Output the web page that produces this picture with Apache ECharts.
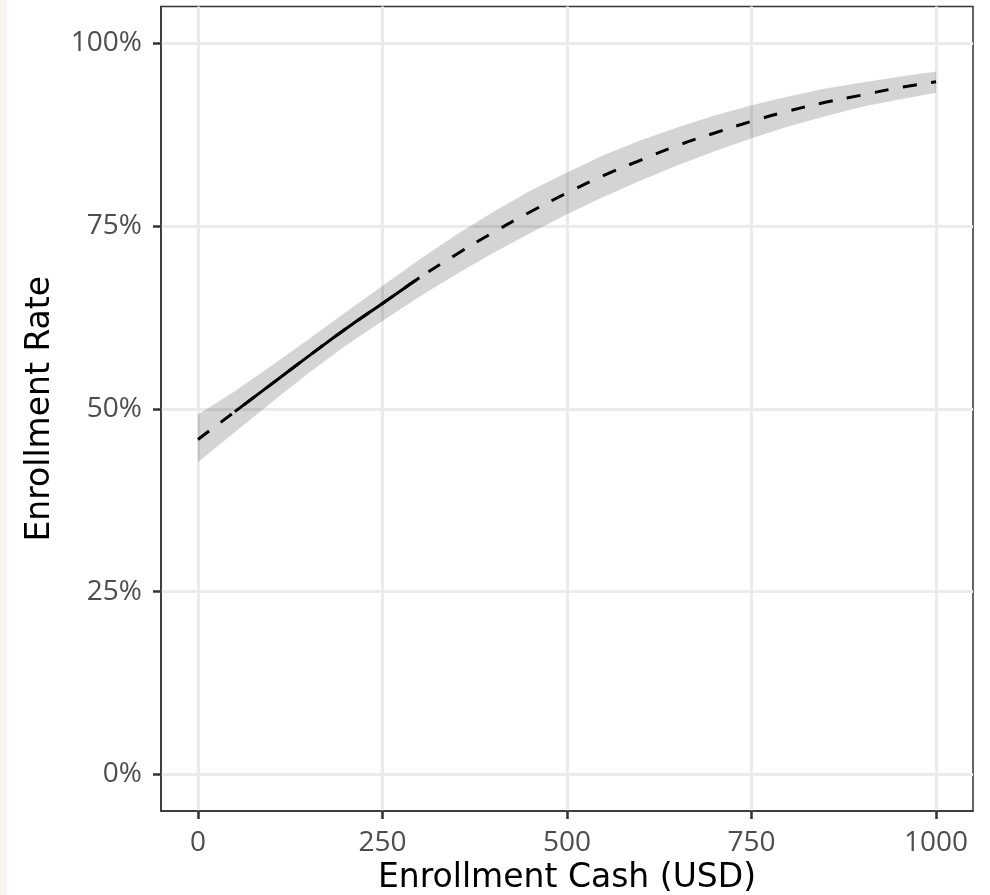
<!DOCTYPE html>
<html>
<head>
<meta charset="utf-8">
<script src="https://cdn.jsdelivr.net/npm/echarts@6/dist/echarts.min.js"></script>
<style>
  html, body { margin: 0; padding: 0; background: #f6f6ee; }
  #chart { position: absolute; left: 7px; top: 0; width: 983px; height: 895px; background: #ffffff; }
</style>
</head>
<body>
<div id="chart"></div>
<script>
// Predicted enrollment rate (%) by enrollment cash offer, with 95% band
const cashUSD = [0, 50, 100, 150, 200, 250, 300, 350, 400, 450, 500,
                 550, 600, 650, 700, 750, 800, 850, 900, 950, 1000];
const ratePct = [45.8, 49.6, 53.4, 57.2, 60.9, 64.4, 67.9, 71.1, 74.1, 76.9, 79.5,
                 81.9, 84.0, 86.0, 87.7, 89.3, 90.7, 91.9, 92.9, 93.9, 94.7];
const lowerPct = [42.7, 46.8, 50.9, 54.9, 58.6, 62.0, 65.3, 68.4, 71.3, 74.0, 76.6,
                  79.0, 81.2, 83.3, 85.2, 87.0, 88.6, 90.0, 91.3, 92.3, 93.2];
const upperPct = [49.2, 52.4, 55.9, 59.5, 63.2, 66.8, 70.4, 73.8, 76.9, 79.8, 82.3,
                  84.7, 86.7, 88.5, 90.1, 91.5, 92.7, 93.8, 94.6, 95.4, 96.1];
// Range of cash amounts actually offered (drawn solid)
const observedRange = [50, 300];
const xTicks = [0, 250, 500, 750, 1000];
const yTicks = [0, 25, 50, 75, 100];
const xLimits = [-50, 1050];
const yLimits = [-5, 105];

const fitAll = cashUSD.map((x, i) => [x, ratePct[i]]);
const fitObserved = fitAll.filter(p => p[0] >= observedRange[0] && p[0] <= observedRange[1]);

const TICK_FONT = "'Open Sans', 'Noto Sans', sans-serif";
const TITLE_FONT = "'DejaVu Sans', 'Open Sans', sans-serif";
const chart = echarts.init(document.getElementById('chart'), null, { renderer: 'canvas' });

// Confidence band: one polygon along the upper bound and back along the lower bound
function renderBand(params, api) {
  if (params.dataIndex !== 0) return null;
  const pts = [];
  for (let i = 0; i < cashUSD.length; i++) pts.push(api.coord([cashUSD[i], upperPct[i]]));
  for (let i = cashUSD.length - 1; i >= 0; i--) pts.push(api.coord([cashUSD[i], lowerPct[i]]));
  return {
    type: 'polygon',
    shape: { points: pts },
    style: { fill: 'rgba(0,0,0,0.17)' },
    silent: true
  };
}

const axisLineStyle = { color: '#333333', width: 1.5 };
const tickStyle = { color: '#333333', width: 2.5 };

chart.setOption({
  animation: false,
  backgroundColor: '#ffffff',
  grid: {
    left: 154, right: 17, top: 6.5, bottom: 84,
    outerBoundsMode: 'none', containLabel: false,
    show: true, borderColor: '#333333', borderWidth: 1.5, backgroundColor: 'transparent'
  },
  xAxis: {
    type: 'value', min: xLimits[0], max: xLimits[1],
    name: 'Enrollment Cash (USD)', nameLocation: 'middle', nameGap: 48,
    nameTextStyle: { fontFamily: TITLE_FONT, fontSize: 33, color: '#000000' },
    axisLine: { show: true, onZero: false, lineStyle: axisLineStyle },
    axisTick: { show: true, inside: false, length: 8, customValues: xTicks, lineStyle: tickStyle },
    axisLabel: { customValues: xTicks, margin: 18, fontFamily: TICK_FONT, fontSize: 28, color: '#4d4d4d',
                 formatter: v => String(v) },
    splitLine: { show: true, lineStyle: { color: '#ebebeb', width: 3 } }
  },
  yAxis: {
    type: 'value', min: yLimits[0], max: yLimits[1],
    name: 'Enrollment Rate', nameLocation: 'middle', nameGap: 104, nameRotate: 90,
    nameTextStyle: { fontFamily: TITLE_FONT, fontSize: 33, color: '#000000' },
    axisLine: { show: true, onZero: false, lineStyle: axisLineStyle },
    axisTick: { show: true, inside: false, length: 8, customValues: yTicks, lineStyle: tickStyle },
    axisLabel: { customValues: yTicks, margin: 19, fontFamily: TICK_FONT, fontSize: 28, color: '#4d4d4d',
                 formatter: v => v + '%' },
    splitLine: { show: true, lineStyle: { color: '#ebebeb', width: 3 } }
  },
  series: [
    {
      name: 'band', type: 'custom', renderItem: renderBand,
      data: [[cashUSD[0], ratePct[0]]], z: 1, silent: true
    },
    {
      name: 'fit-dashed', type: 'line', data: fitAll,
      symbol: 'none', smooth: true,
      lineStyle: { color: '#000000', width: 3, type: [14, 14.5], cap: 'butt' }, z: 2
    },
    {
      name: 'fit-observed', type: 'line', data: fitObserved,
      symbol: 'none', smooth: true,
      lineStyle: { color: '#000000', width: 3, cap: 'butt' }, z: 3
    }
  ]
});
</script>
</body>
</html>
